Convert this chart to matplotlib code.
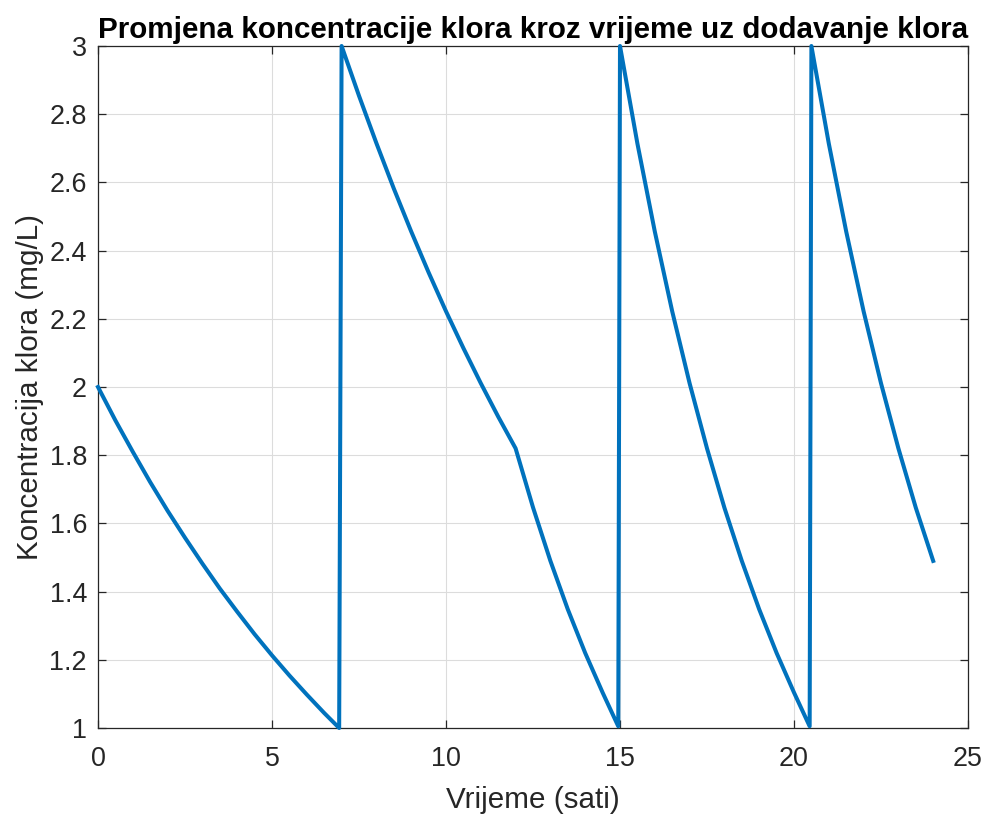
import matplotlib
matplotlib.use("Agg")
import matplotlib.pyplot as plt

# Chlorine concentration readings (hours, mg/L)
time_h = [
    0, 0.5, 1, 1.5, 2, 2.5, 3, 3.5, 4, 4.5, 5, 5.5, 6, 6.5, 6.93,
    7, 7.5, 8, 8.5, 9, 9.5, 10, 10.5, 11, 11.5, 12,
    12.5, 13, 13.5, 14, 14.5, 14.95,
    15, 15.5, 16, 16.5, 17, 17.5, 18, 18.5, 19, 19.5, 20, 20.45,
    20.5, 21, 21.5, 22, 22.5, 23, 23.5, 24,
]
conc = [
    2.000, 1.902, 1.810, 1.721, 1.637, 1.558, 1.482, 1.409, 1.341, 1.275,
    1.213, 1.154, 1.098, 1.044, 1.000,
    3.000, 2.854, 2.715, 2.582, 2.456, 2.336, 2.222, 2.114, 2.011, 1.913, 1.820,
    1.647, 1.490, 1.348, 1.220, 1.104, 1.005,
    3.000, 2.714, 2.456, 2.222, 2.011, 1.820, 1.646, 1.490, 1.348, 1.220,
    1.104, 1.005,
    3.000, 2.714, 2.456, 2.222, 2.011, 1.820, 1.646, 1.490,
]

x_ticks = [0, 5, 10, 15, 20, 25]
y_ticks = [1, 1.2, 1.4, 1.6, 1.8, 2, 2.2, 2.4, 2.6, 2.8, 3]
y_tick_labels = ["1", "1.2", "1.4", "1.6", "1.8", "2", "2.2", "2.4", "2.6", "2.8", "3"]

plt.rcParams["font.family"] = ["Liberation Sans", "DejaVu Sans"]
axis_color = "#262626"

fig = plt.figure(figsize=(9.85, 8.14), dpi=100)
ax = fig.add_axes([98 / 985, 1 - 728 / 814, 870 / 985, 682 / 814])

ax.plot(time_h, conc, color="#0072BD", linewidth=2.9, solid_joinstyle="round",
        clip_on=False, zorder=3)

ax.set_xlim(0, 25)
ax.set_ylim(1, 3)
ax.set_xticks(x_ticks)
ax.set_yticks(y_ticks)
ax.set_yticklabels(y_tick_labels)

ax.grid(True, color="#dcdcdc", linewidth=0.8)
ax.set_axisbelow(True)
ax.tick_params(direction="in", top=True, right=True, length=6, width=0.9,
               colors=axis_color, labelsize=19.4, pad=8)
ax.tick_params(axis="x", pad=13)
for sp in ax.spines.values():
    sp.set_color(axis_color)
    sp.set_linewidth(0.9)

ax.set_xlabel("Vrijeme (sati)", fontsize=21.3, color=axis_color, labelpad=10)
ax.set_ylabel("Koncentracija klora (mg/L)", fontsize=21.3, color=axis_color,
              labelpad=4)
ax.set_title("Promjena koncentracije klora kroz vrijeme uz dodavanje klora",
             fontsize=21.3, fontweight="bold", color="black", pad=6)

fig.savefig("out.png", dpi=100, facecolor="white")
